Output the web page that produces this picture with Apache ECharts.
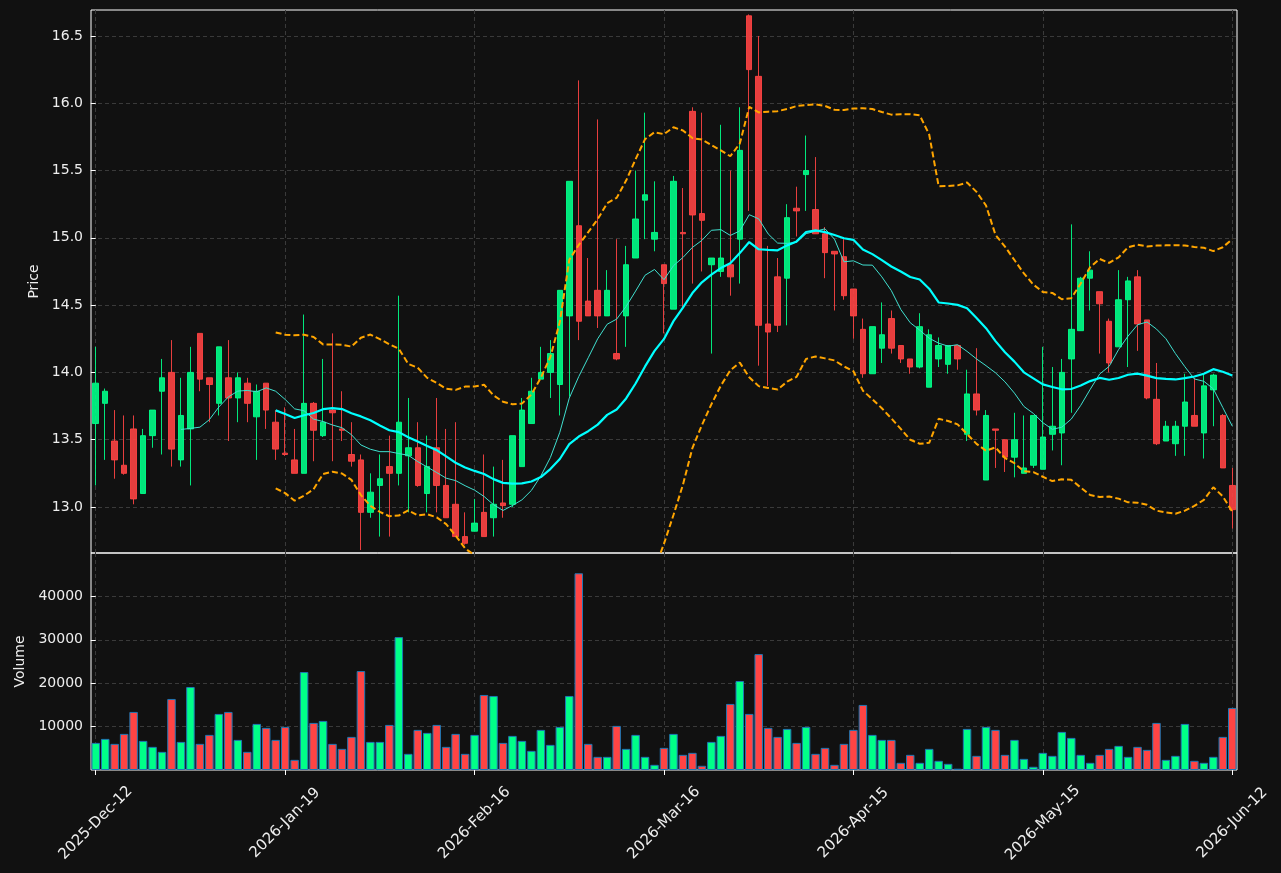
<!DOCTYPE html>
<html lang="en">
<head>
    <meta charset="UTF-8">
    <title>Price / Volume</title>
    <script src="https://cdn.jsdelivr.net/npm/echarts@6/dist/echarts.min.js"></script>
    <style>
        html, body { margin: 0; padding: 0; background: #111111; }
        #main { width: 1281px; height: 873px; }
    </style>
</head>
<body>
<div id="main"></div>
<script>
    // tick labels of the date axis, one every 20 sessions
    const tickIdx = [0, 20, 40, 60, 80, 100, 120];
    const tickLabels = ['2025-Dec-12', '2026-Jan-19', '2026-Feb-16', '2026-Mar-16', '2026-Apr-15', '2026-May-15', '2026-Jun-12'];

    // daily OHLC
    const open = [13.62, 13.77, 13.49, 13.31, 13.58, 13.10, 13.53, 13.86, 14.00, 13.35,
        13.58, 14.29, 13.96, 13.77, 13.96, 13.81, 13.92, 13.67, 13.92, 13.63,
        13.40, 13.35, 13.25, 13.77, 13.53, 13.72, 13.58, 13.39, 13.35, 12.96,
        13.16, 13.30, 13.25, 13.38, 13.44, 13.10, 13.44, 13.16, 13.02, 12.78,
        12.82, 12.96, 12.92, 13.03, 13.02, 13.30, 13.62, 13.95, 14.00, 13.91,
        14.42, 15.09, 14.53, 14.61, 14.42, 14.14, 14.42, 14.85, 15.28, 14.99,
        14.80, 14.47, 15.04, 15.94, 15.18, 14.80, 14.75, 14.80, 14.99, 16.65,
        16.20, 14.36, 14.71, 14.70, 15.22, 15.47, 15.21, 15.03, 14.90, 14.86,
        14.62, 14.32, 13.99, 14.18, 14.40, 14.20, 14.10, 14.04, 13.89, 14.10,
        14.06, 14.20, 13.54, 13.84, 13.20, 13.58, 13.50, 13.37, 13.25, 13.31,
        13.28, 13.54, 13.55, 14.10, 14.31, 14.70, 14.60, 14.38, 14.19, 14.54,
        14.71, 14.39, 13.80, 13.49, 13.47, 13.60, 13.68, 13.55, 13.87, 13.68,
        13.16];
    const high = [14.19, 13.88, 13.72, 13.68, 13.68, 13.58, 13.72, 14.10, 14.24, 13.96,
        14.19, 14.29, 13.96, 14.19, 14.24, 14.00, 13.96, 13.91, 13.92, 13.72,
        13.74, 13.58, 14.43, 13.78, 14.10, 14.29, 13.86, 13.63, 13.39, 13.25,
        13.39, 13.53, 14.57, 13.81, 13.63, 13.53, 13.81, 13.58, 13.63, 12.96,
        13.06, 13.39, 13.30, 13.35, 13.53, 13.81, 13.96, 14.19, 14.24, 14.61,
        15.42, 16.17, 14.85, 15.88, 14.76, 14.99, 14.94, 15.50, 15.93, 15.42,
        14.80, 15.46, 15.37, 15.97, 15.93, 14.85, 15.84, 15.50, 15.97, 16.66,
        16.50, 14.94, 14.85, 15.25, 15.38, 15.76, 15.60, 15.08, 14.90, 14.99,
        14.62, 14.40, 14.34, 14.52, 14.46, 14.20, 14.10, 14.44, 14.32, 14.26,
        14.20, 14.20, 14.02, 14.18, 13.72, 13.58, 13.50, 13.70, 13.68, 13.68,
        14.19, 14.04, 14.10, 15.10, 14.71, 14.90, 14.60, 14.40, 14.76, 14.71,
        14.76, 14.39, 14.07, 13.64, 13.64, 13.99, 13.96, 13.99, 13.99, 13.69,
        13.29];
    const low = [13.16, 13.35, 13.21, 13.24, 13.02, 13.10, 13.44, 13.39, 13.30, 13.30,
        13.16, 13.86, 13.63, 13.68, 13.49, 13.63, 13.63, 13.35, 13.58, 13.35,
        13.38, 13.25, 13.25, 13.34, 13.52, 13.34, 13.49, 13.30, 12.68, 12.92,
        12.78, 12.78, 13.16, 12.96, 13.15, 12.96, 12.96, 12.92, 12.78, 12.72,
        12.82, 12.78, 12.78, 12.92, 13.00, 13.30, 13.62, 13.95, 13.81, 13.68,
        13.82, 14.24, 14.42, 14.33, 14.42, 14.09, 14.19, 14.85, 14.99, 14.90,
        14.29, 14.47, 14.47, 14.66, 14.75, 14.14, 14.71, 14.57, 14.66, 15.20,
        14.05, 13.90, 14.30, 14.35, 15.01, 15.20, 15.03, 14.70, 14.46, 14.54,
        14.25, 13.96, 13.99, 14.07, 14.14, 14.07, 13.99, 14.03, 13.89, 14.04,
        13.99, 14.02, 13.49, 13.68, 13.20, 13.29, 13.26, 13.22, 13.25, 13.29,
        13.28, 13.42, 13.31, 13.70, 14.31, 14.46, 14.14, 14.00, 14.19, 14.04,
        14.16, 13.80, 13.46, 13.49, 13.38, 13.38, 13.60, 13.36, 13.60, 13.29,
        12.84];
    const close = [13.92, 13.86, 13.35, 13.25, 13.06, 13.53, 13.72, 13.96, 13.43, 13.68,
        14.00, 13.95, 13.91, 14.19, 13.81, 13.96, 13.77, 13.86, 13.72, 13.43,
        13.39, 13.25, 13.77, 13.57, 13.63, 13.70, 13.57, 13.34, 12.96, 13.11,
        13.21, 13.25, 13.63, 13.44, 13.16, 13.30, 13.16, 12.92, 12.78, 12.73,
        12.88, 12.78, 13.02, 13.01, 13.53, 13.72, 13.86, 14.00, 14.14, 14.61,
        15.42, 14.38, 14.42, 14.42, 14.61, 14.10, 14.80, 15.14, 15.32, 15.04,
        14.66, 15.42, 15.03, 15.17, 15.13, 14.85, 14.85, 14.71, 15.65, 16.25,
        14.35, 14.30, 14.35, 15.15, 15.20, 15.50, 15.03, 14.89, 14.88, 14.57,
        14.42, 13.99, 14.34, 14.28, 14.18, 14.10, 14.04, 14.34, 14.28, 14.20,
        14.20, 14.10, 13.84, 13.72, 13.68, 13.57, 13.37, 13.50, 13.29, 13.68,
        13.52, 13.60, 14.00, 14.32, 14.70, 14.76, 14.51, 14.07, 14.54, 14.68,
        14.36, 13.81, 13.47, 13.60, 13.60, 13.78, 13.60, 13.90, 13.98, 13.29,
        12.98];
    const volume = [6250, 7170, 6020, 8320, 13380, 6710, 5330, 4180, 16370, 6480,
        19130, 6020, 8090, 12920, 13380, 6940, 4180, 10620, 9700, 6940,
        9930, 2340, 22570, 10850, 11310, 6020, 4870, 7630, 22800, 6480,
        6480, 10390, 30620, 3720, 9240, 8550, 10390, 5330, 8320, 3720,
        8090, 17290, 17060, 6250, 7860, 6710, 4410, 9240, 5790, 9930,
        17060, 45330, 6020, 3030, 3030, 10160, 4870, 8090, 3030, 1190,
        5100, 8320, 3490, 3950, 970, 6480, 7860, 15220, 20510, 12920,
        26710, 9700, 7630, 9470, 6250, 9930, 3720, 5100, 1190, 6020,
        9240, 14990, 8090, 6940, 6940, 1650, 3490, 1650, 4870, 2110,
        1420, 300, 9470, 3260, 9930, 9240, 3490, 6940, 2570, 740,
        3950, 3260, 8780, 7400, 3490, 1650, 3490, 4870, 5560, 3030,
        5330, 4640, 10850, 2340, 3260, 10620, 2110, 1650, 3030, 7630,
        14300];

    const UP = '#00ff88';
    const DOWN = '#ff4444';
    const TEXT = '#eeeeee';
    const GRIDLINE = '#3a3a3a';
    const FONT = 'DejaVu Sans';

    // indicators of the chart: rolling mean (10, 20) and 20-day bands (2 sd) of the closes
    function rolling(n, fn) {
        const out = [];
        for (let i = n - 1; i < close.length; i++) {
            out.push([i, fn(close.slice(i - n + 1, i + 1))]);
        }
        return out;
    }
    const mean = a => a.reduce((s, v) => s + v, 0) / a.length;
    const sd = a => { const m = mean(a); return Math.sqrt(a.reduce((s, v) => s + (v - m) * (v - m), 0) / (a.length - 1)); };
    const ma10 = rolling(10, mean);
    const ma20 = rolling(20, mean);
    const bbUp = rolling(20, a => mean(a) + 2 * sd(a));
    const bbLow = rolling(20, a => mean(a) - 2 * sd(a));

    const candles = open.map((o, i) => [i, o, close[i], low[i], high[i]]);
    const volBars = volume.map((v, i) => ({
        value: [i, v],
        itemStyle: { color: close[i] >= open[i] ? UP : DOWN }
    }));

    const priceTicks = [13.0, 13.5, 14.0, 14.5, 15.0, 15.5, 16.0, 16.5];
    const volTicks = [10000, 20000, 30000, 40000];
    const label = { color: TEXT, fontFamily: FONT, fontSize: 14 };
    const split = { show: true, lineStyle: { color: GRIDLINE, type: [4, 3], width: 1 } };

    let myChart = echarts.init(document.getElementById('main'));
    let option = {
        backgroundColor: '#111111',
        animation: false,
        grid: [
            { left: 91, top: 10, width: 1146, height: 543, show: true, borderColor: '#ffffff', borderWidth: 1 },
            { left: 91, top: 553, width: 1146, height: 217, show: true, borderColor: '#ffffff', borderWidth: 1 }
        ],
        xAxis: [
            {
                type: 'value', gridIndex: 0, min: -0.5, max: 120.5,
                axisLine: { show: false },
                axisTick: { show: false, customValues: tickIdx },
                axisLabel: { show: false, customValues: tickIdx },
                splitLine: split
            },
            {
                type: 'value', gridIndex: 1, min: -0.5, max: 120.5,
                axisLine: { show: false },
                axisTick: { show: true, customValues: tickIdx, length: 5, lineStyle: { color: '#ffffff' } },
                axisLabel: Object.assign({}, label, {
                    fontSize: 15,
                    customValues: tickIdx,
                    rotate: 45,
                    align: 'center',
                    verticalAlign: 'middle',
                    margin: 53,
                    formatter: v => tickLabels[tickIdx.indexOf(Math.round(v))] || ''
                }),
                splitLine: split
            }
        ],
        yAxis: [
            {
                type: 'value', gridIndex: 0, min: 12.658, max: 16.693,
                name: 'Price', nameLocation: 'middle', nameGap: 50,
                nameTextStyle: { color: TEXT, fontFamily: FONT, fontSize: 14 },
                axisLine: { show: false },
                axisTick: { show: true, customValues: priceTicks, length: 5, lineStyle: { color: '#ffffff' } },
                axisLabel: Object.assign({}, label, { customValues: priceTicks, margin: 8, formatter: v => v.toFixed(1) }),
                splitLine: split
            },
            {
                type: 'value', gridIndex: 1, min: 0, max: 50000,
                name: 'Volume', nameLocation: 'middle', nameGap: 64,
                nameTextStyle: { color: TEXT, fontFamily: FONT, fontSize: 14 },
                axisLine: { show: false },
                axisTick: { show: true, customValues: volTicks, length: 5, lineStyle: { color: '#ffffff' } },
                axisLabel: Object.assign({}, label, { customValues: volTicks, margin: 8, formatter: v => String(v) }),
                splitLine: split
            }
        ],
        series: [
            {
                name: 'OHLC', type: 'candlestick', xAxisIndex: 0, yAxisIndex: 0,
                barWidth: 6,
                itemStyle: {
                    color: UP, color0: DOWN, borderColor: UP, borderColor0: DOWN,
                    borderWidth: 1, opacity: 0.9
                },
                data: candles
            },
            {
                name: 'MA10', type: 'line', xAxisIndex: 0, yAxisIndex: 0,
                showSymbol: false, symbol: 'none',
                lineStyle: { color: '#40e0d0', width: 1 },
                data: ma10
            },
            {
                name: 'MA20', type: 'line', xAxisIndex: 0, yAxisIndex: 0,
                showSymbol: false, symbol: 'none',
                lineStyle: { color: '#00ffff', width: 2.2 },
                data: ma20
            },
            {
                name: 'BB upper', type: 'line', xAxisIndex: 0, yAxisIndex: 0,
                showSymbol: false, symbol: 'none',
                lineStyle: { color: '#ffa500', width: 2, type: [6, 3] },
                data: bbUp
            },
            {
                name: 'BB lower', type: 'line', xAxisIndex: 0, yAxisIndex: 0,
                showSymbol: false, symbol: 'none',
                lineStyle: { color: '#ffa500', width: 2, type: [6, 3] },
                data: bbLow
            },
            {
                name: 'Volume', type: 'bar', xAxisIndex: 1, yAxisIndex: 1,
                barWidth: 8.5,
                itemStyle: { borderColor: '#1f77b4', borderWidth: 1 },
                data: volBars
            }
        ]
    };
    myChart.setOption(option);
</script>
</body>
</html>
